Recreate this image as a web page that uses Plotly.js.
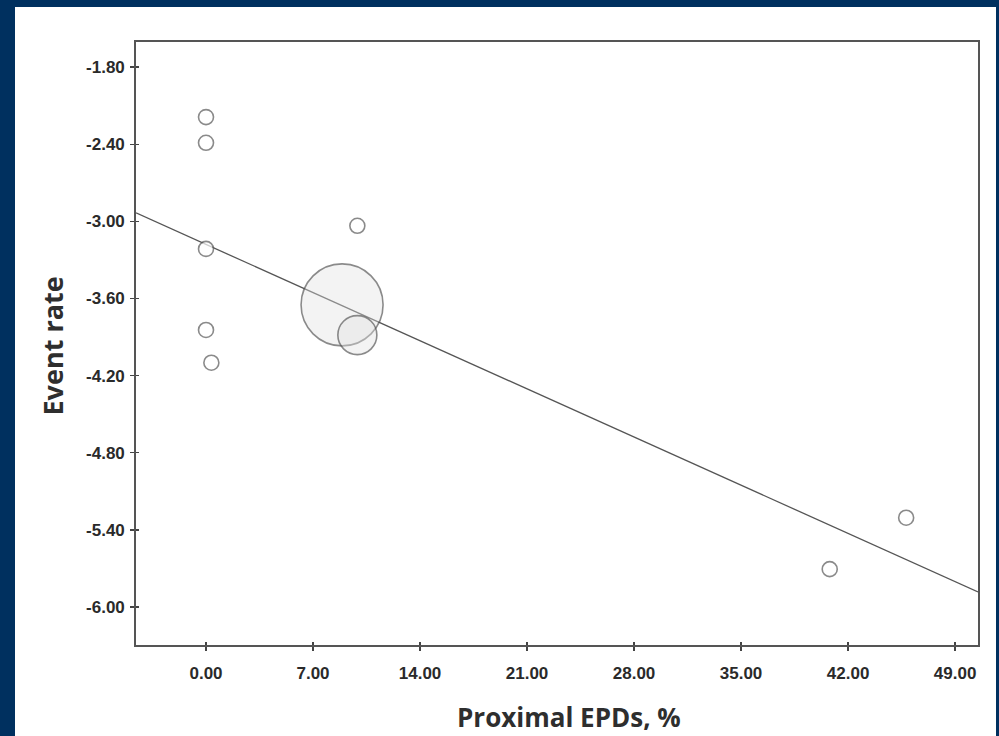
<!DOCTYPE html>
<html>
<head>
<meta charset="utf-8">
<script src="https://cdn.plot.ly/plotly-3.0.1.min.js"></script>
<style>
  html, body { margin: 0; padding: 0; background: #00305f; width: 999px; height: 736px; overflow: hidden; }
  #chart { position: absolute; left: 15px; top: 7px; width: 981px; height: 729px; }
</style>
</head>
<body>
<div id="chart"></div>
<script>
// Data
const proximalEPD = [0.0, 0.0, 0.0, 0.0, 0.35, 9.9, 8.9, 9.9, 40.8, 45.8];
const eventRate   = [-2.19, -2.39, -3.215, -3.845, -4.10, -3.035, -3.65, -3.885, -5.705, -5.305];
const studyWeight = [15, 15, 15, 15, 15, 15, 82, 39, 15, 15];
const regIntercept = -3.18;
const regSlope = -0.0535;
const xTicks = [0, 7, 14, 21, 28, 35, 42, 49];
const yTicks = [-1.8, -2.4, -3.0, -3.6, -4.2, -4.8, -5.4, -6.0];
const xTitle = 'Proximal EPDs, %';
const yTitle = 'Event rate';

const xRange = [-4.58, 50.5];
const yRange = [-6.295, -1.606];

const fillColors = studyWeight.map(w => w > 30 ? 'rgba(225,225,225,0.55)' : '#ffffff');

const lineTrace = {
  x: xRange,
  y: xRange.map(x => regIntercept + regSlope * x),
  mode: 'lines',
  line: { color: '#555555', width: 1.3 },
  hoverinfo: 'skip',
  showlegend: false
};

const pts = {
  x: proximalEPD,
  y: eventRate,
  mode: 'markers',
  marker: {
    size: studyWeight,
    sizemode: 'diameter',
    color: fillColors,
    line: { color: '#5a5a5a', width: 1.6 }
  },
  showlegend: false
};

const tickFont = { family: 'Liberation Sans, Arial, sans-serif', size: 17, color: '#2a2a2a', weight: 'bold' };
const titleFont = { family: 'Open Sans, sans-serif', size: 26, color: '#2e2e2e', weight: 'bold' };

const layout = {
  width: 981, height: 729,
  paper_bgcolor: '#ffffff',
  plot_bgcolor: '#ffffff',
  margin: { l: 121, r: 18, t: 35, b: 91 },
  showlegend: false,
  xaxis: {
    range: xRange,
    tickvals: xTicks,
    ticktext: xTicks.map(v => v.toFixed(2)),
    tickfont: tickFont,
    ticks: 'outside', ticklen: 4, tickcolor: '#444', tickwidth: 1.2,
    ticklabelstandoff: 8,
    showgrid: false, zeroline: false,
    showline: true, linecolor: '#555555', linewidth: 1.8, mirror: true
  },
  yaxis: {
    range: yRange,
    tickvals: yTicks,
    ticktext: yTicks.map(v => v.toFixed(2)),
    tickfont: tickFont,
    ticks: 'outside', ticklen: 4, tickcolor: '#444', tickwidth: 1.2,
    ticklabelstandoff: 2,
    showgrid: false, zeroline: false,
    showline: true, linecolor: '#555555', linewidth: 1.8, mirror: true
  },
  xaxis2: {
    overlaying: 'x', range: xRange, tickvals: xTicks, showticklabels: false,
    ticks: 'inside', ticklen: 3, tickcolor: '#444', tickwidth: 1.2,
    showgrid: false, zeroline: false, showline: false, side: 'bottom'
  },
  yaxis2: {
    overlaying: 'y', range: yRange, tickvals: yTicks, showticklabels: false,
    ticks: 'inside', ticklen: 3, tickcolor: '#444', tickwidth: 1.2,
    showgrid: false, zeroline: false, showline: false, side: 'left'
  },
  annotations: [
    { text: xTitle, xref: 'paper', yref: 'paper', x: 0.5, y: 0, xanchor: 'center', yanchor: 'middle',
      xshift: 12, yshift: -72, showarrow: false, font: titleFont },
    { text: yTitle, xref: 'paper', yref: 'paper', x: 0, y: 0.5, xanchor: 'center', yanchor: 'middle',
      xshift: -84, yshift: -3, textangle: -90, showarrow: false, font: Object.assign({}, titleFont, { size: 27 }) }
  ]
};

const dummy = { x: [], y: [], xaxis: 'x2', yaxis: 'y2', showlegend: false, mode: 'markers' };

Plotly.newPlot('chart', [lineTrace, pts, dummy], layout, { displayModeBar: false, staticPlot: true });
</script>
</body>
</html>
